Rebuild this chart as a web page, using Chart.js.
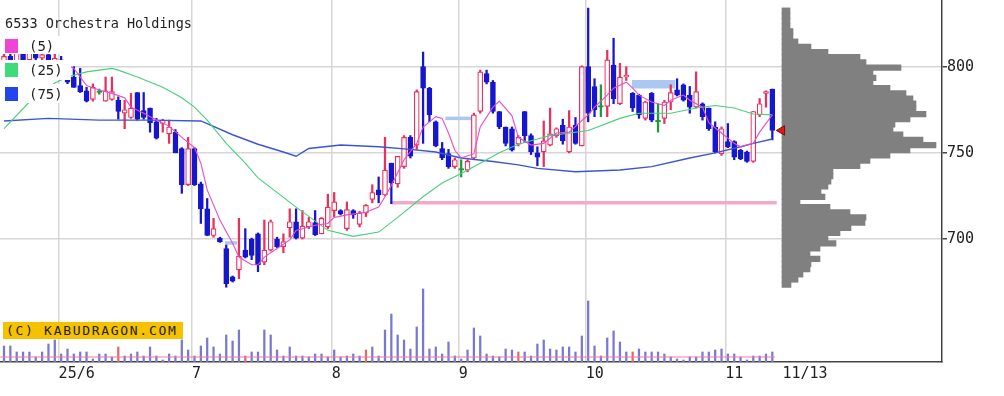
<!DOCTYPE html>
<html>
<head>
<meta charset="utf-8">
<script src="https://cdn.jsdelivr.net/npm/chart.js@4.4.1/dist/chart.umd.min.js"></script>
<style>
  body { margin: 0; background: #fff; }
  #wrap { position: relative; width: 1004px; height: 396px; overflow: hidden; }
  #c { position: absolute; left: 0; top: 0; }
  .txt { position: absolute; font-family: "DejaVu Sans Mono", monospace; color: #222; white-space: nowrap; line-height: 1; }
  .row { position: absolute; left: 0; width: 71px; background: #fff; }
  .sw { position: absolute; left: 5px; width: 13px; height: 14px; }
  #copy { position: absolute; left: 3px; top: 322px; width: 180px; height: 17px; background: #f6c200;
          font-family: "DejaVu Sans Mono", monospace; font-size: 13px; letter-spacing: 1.7px; line-height: 17px;
          color: #222; padding-left: 3px; box-sizing: border-box; white-space: nowrap; }
</style>
</head>
<body>
<div id="wrap">
  <canvas id="c" width="1004" height="396"></canvas>
  <div class="txt" style="left:5px; top:17px; font-size:13.5px;">6533 Orchestra Holdings</div>
  <div class="row" style="top:36px; height:18px;">
    <span class="sw" style="top:3px; background:#f044d4;"></span>
    <span class="txt" style="left:29px; top:3px; font-size:14px;">(5)</span>
  </div>
  <div class="row" style="top:60px; height:20px;">
    <span class="sw" style="top:3px; background:#3ddc78;"></span>
    <span class="txt" style="left:29px; top:3px; font-size:14px;">(25)</span>
  </div>
  <div class="row" style="top:84px; height:19px;">
    <span class="sw" style="top:3px; background:#2244ee;"></span>
    <span class="txt" style="left:29px; top:3px; font-size:14px;">(75)</span>
  </div>
  <div id="copy">(C) KABUDRAGON.COM</div>
</div>
<script>
// daily candles, 2025-05-20 .. 2025-11-13 (index 0..121)
const openP = [798,806,803,808,804,809,805,807,800,804,794,794,789,786,781,785,780,781,780.5,773,
  770.5,785,774.5,776,768,767,761,762,752.5,731.5,752.5,732,717.5,702,700.5,694.5,678,682,693.5,700,
  703,686.5,693.5,700,695.5,706.5,710,700.5,707,709.5,703,707,716.5,716.5,706,716.5,708.5,715,723,728.5,
  725.5,744,732,742,759,754.5,800,787.5,768,752.5,749.5,742,740,740,747,774,796,791,774,765,
  764,755,774,760,750,750.5,754.5,760,766,750.5,766,754,800,788.5,776.5,777,801,778.5,794,784.5,
  783.5,770,784.5,768,770,779.5,786.5,789.5,783.5,776.5,778.5,776,765,749.5,756.5,756.5,751.5,750.5,745,772,
  784.5,787];
const highP = [808,810,812,811,813,812,810,811,814,806,797,800,799,788,790,787,794,794,782.5,780.5,
  784.5,785,785,776,770,769.5,769,763.5,753,759,753,733,723.5,712,701,696.5,678.5,712,706,700.5,
  703.5,711,711,701,703,717.5,717.5,716.5,712.5,716.5,712.5,726,727,717,721.5,717,716,720,731.5,736,
  759,744,748,760,760,786.5,808.5,788,768.5,756,752,747,746,746,773,798,798,792,774,765,
  765,760,774,761,753.5,768.5,776,764.5,769.5,774.5,770.5,800.5,834,793,789.5,809.5,816.5,802,800,785,
  784,780,785,778.5,780.5,789.5,793,790,788.5,797,779,776,768,765,767,757,752,751,774,781.5,
  786,787];
const lowP = [796,800,801,802,803,803,802,798,798,794,789,788,785,779.5,780,784,780,780.5,769.5,764,
  770,769,769.5,762,758,762,755.5,750,726.5,731,731,709,702,701,698,672,675,677,689,688,
  681,685,693,695,692,701,700,700,706,702,703,706,713,714,705,712,707,713,721,721,
  725,720.5,730,741,747,752,755.5,768,753.5,746,741,741,736,739,746,773,790,773,764,754,
  751,754,756,749,742.5,742,754,759,755,750,755,754,768,771,771,771,778.5,778,792,774,
  770,769,768,762,767,775,783,780,773,776,769,763,750,748.5,753,746,746,744.5,744.5,771,
  776.5,757.5];
const closeP = [806,802,808,804,809,805,807,800,805,796,791,788,785.5,780,788,785,786,785.5,774,775,
  776,769.5,770.5,767.5,758.5,769,765,750,731.5,752.5,731.5,717.5,702,706,698.5,674,675.5,690,689.5,690.5,
  685,693.5,710,695.5,698.5,710,700.5,707.5,710,702.5,712,718.5,721.5,714.5,717,714,715,719.5,727,725.5,
  740,732.5,748,759,748,785.5,787.5,772,754,747,742,746,740,745,772,797,791,774,765,755.5,
  751.5,759,760,750.5,747.5,757,761,764,757,765,755.5,800,773,775,776.5,804,781.5,794,795,776,
  772,779.5,769,768,779.5,785,783.5,780.5,776.5,785.5,771,764,750.5,764,753.5,747.5,746.5,745,774,778.5,
  785.5,763];
// volume, thousand shares
const volume = [160,160,100,100,100,50,100,180,220,80,130,80,100,100,30,80,80,50,150,60,
  80,100,60,150,60,20,80,60,220,120,60,160,240,150,80,270,210,320,60,100,
  100,320,270,120,60,150,60,60,50,80,80,50,120,50,60,80,60,120,150,60,
  320,480,270,220,130,350,730,130,150,80,200,60,30,120,340,260,80,60,50,130,
  120,100,100,60,180,220,130,120,150,150,100,260,610,160,60,240,310,200,100,100,
  130,100,100,100,80,50,30,20,50,50,100,100,120,130,80,80,50,20,60,60,
  80,100];
const volRedDays = [18, 38, 57, 81, 99];
const volAverage = 50;

const ma5Idx = [8,10,11,13,15,17,19,20,22,24,26,28,30,31,32,34,36,37,39,40,41,43,45,46,48,49,51,52,54,56,57,59,60,61,63,65,66,68,69,70,
  71,72,74,75,77,78,80,81,83,85,87,89,92,93,95,96,98,99,100,102,104,105,107,108,110,111,113,115,116,118,119,121];
const ma5Val = [803,801,799,789,786.5,784.5,782,776.5,773,769,765.5,759,753,744,728.5,711,697.5,689.5,685,685,689.5,694.5,699.5,705,707,708,709,712.5,714,715,715.5,718.5,724.5,731,746,755.5,765,771,770,761.5,
  751.5,747,749.5,765,776.5,780,771.5,759,754.5,755.5,761.5,762,772,776.5,783.5,787.5,791,787.5,783.5,779.5,777.5,780.5,783.5,780.5,776.5,767.5,761.5,755.5,753.5,755.5,762,772];
const ma25Idx = [0,4,8,10,13,17,18,21,25,28,30,32,35,38,40,46,51,55,59,62,66,69,72,76,78,81,84,86,92,97,100,105,109,112,115,118,121];
const ma25Val = [764,779.5,790.5,794,797,799,798,794,788,782,776.5,769,755.5,744,735.5,718.5,705,701.5,704,712.5,724.5,732.5,738,746,750,755,758,760,763,770,773,773,776,777.5,776,772.5,772];
const ma75Idx = [0,7,15,23,31,36,40,44,46,48,53,59,64,68,72,77,81,84,90,97,102,108,112,116,118,121];
const ma75Val = [768.5,770,769,769,768.5,760.5,755,750.5,748,752.5,754.5,753.5,752,750.5,747,745,743,741,739,740,742,747,750,753.5,755.5,758];

// price windows (gaps) and support line
const gapFrom = [34.8, 69.5, 98.9];
const gapTo = [36.7, 73.7, 105.7];
const gapPrice = [697.7, 770, 789.8];
const supportFrom = 61, supportTo = 121.7, supportPrice = 721;

// volume-by-price profile
const profilePrice = [673.5,676.5,679.5,682.5,685.5,688.5,691.5,694.5,697.5,700.5,703.5,706.5,709.5,712.5,715.5,718.5,721.5,724.5,
  727.5,730.5,733.5,736.5,739.5,742.5,745.5,748.5,751.5,754.5,757.5,760.5,763.5,766.5,769.5,772.5,775.5,778.5,
  781.5,784.5,787.5,790.5,793.5,796.5,799.5,802.5,805.5,808.5,811.5,814.5,817.5,820.5,823.5,826.5,829.5,832.5];
const profileVol = [9,16,21,28,29,38,28,38,54,46,58,69,83,84,68,48,18,43,
  39,46,49,51,51,78,88,108,128,154,141,121,111,113,128,144,134,134,
  131,124,108,91,94,91,119,84,78,46,29,16,11,11,8,8,8,8];

const monthStart = [9, 30, 52, 72, 92, 114];
const monthLabels = ['25/6', '7', '8', '9', '10', '11'];
const lastLabel = '11/13';
const priceTicks = [700, 750, 800];
const lastClose = 763;

const RED = '#e8305c', BLUE = '#1616cc', GREEN = '#1e9a3c';
const Y_MIN = 628.6, Y_MAX = 838.7;

const idx = openP.map((_, i) => i);
const lastIdx = idx.length - 1;
const tone = idx.map(i => closeP[i] > openP[i] ? RED : (closeP[i] < openP[i] ? BLUE : GREEN));
const xTickPos = monthStart.map(m => m - 0.4).concat([lastIdx + 1.6]);
const xTickText = monthLabels.concat([lastLabel]);
const pts = (xs, ys) => xs.map((x, k) => ({x: x, y: ys[k]}));

const ctx = document.getElementById('c').getContext('2d');
const chart = new Chart(ctx, {
  data: {
    datasets: [
      { type: 'bar', label: 'volume', xAxisID: 'x', yAxisID: 'yv', order: 20, grouped: false,
        data: idx.map(i => ({x: i, y: volume[i]})),
        backgroundColor: idx.map(i => volRedDays.includes(i) ? '#e06868' : '#7878d2'),
        barThickness: 1.6 },
      { type: 'line', label: 'vol avg', xAxisID: 'x', yAxisID: 'yv', order: 19,
        data: [{x: -0.6, y: volAverage}, {x: lastIdx + 0.4, y: volAverage}],
        borderColor: '#f07aa2', borderWidth: 1, pointRadius: 0 },
      { type: 'bar', label: 'profile', indexAxis: 'y', xAxisID: 'xp', yAxisID: 'yp', order: 18, grouped: false,
        data: pts(profileVol, profilePrice),
        backgroundColor: '#808080', barThickness: 5.6 },
      { type: 'line', label: 'support', order: 17,
        data: [{x: supportFrom, y: supportPrice}, {x: supportTo, y: supportPrice}],
        borderColor: '#f5a9c9', borderWidth: 3.5, pointRadius: 0, borderCapStyle: 'butt' },
      ...gapFrom.map((g, k) => ({ type: 'line', label: 'gap' + k, order: 16,
        data: [{x: g, y: gapPrice[k]}, {x: gapTo[k], y: gapPrice[k]}],
        borderColor: '#aac8f2', borderWidth: k === 2 ? 8.5 : 3.5, pointRadius: 0, borderCapStyle: 'butt' })),
      { type: 'bar', label: 'wick', order: 10, grouped: false,
        data: idx.map(i => ({x: i, y: [lowP[i], highP[i]]})),
        backgroundColor: tone, barThickness: 1.6 },
      { type: 'bar', label: 'body', order: 9, grouped: false,
        data: idx.map(i => ({x: i, y: [openP[i], closeP[i]]})),
        backgroundColor: idx.map(i => tone[i] === RED ? '#ffffff' : tone[i]),
        borderColor: tone, borderWidth: 1.2, borderSkipped: false, minBarLength: 1.6,
        barThickness: 5 },
      { type: 'line', label: '(75)', order: 3, data: pts(ma75Idx, ma75Val),
        borderColor: '#3a56d6', borderWidth: 1.4, pointRadius: 0 },
      { type: 'line', label: '(25)', order: 2, data: pts(ma25Idx, ma25Val),
        borderColor: '#48d07a', borderWidth: 1.1, pointRadius: 0 },
      { type: 'line', label: '(5)', order: 1, data: pts(ma5Idx, ma5Val),
        borderColor: '#e84ccc', borderWidth: 1.1, pointRadius: 0 },
      { type: 'line', label: 'last', order: 0, showLine: false,
        data: [{x: lastIdx + 1.5, y: lastClose}],
        pointStyle: 'triangle', rotation: -90, pointRadius: 5.5,
        pointBackgroundColor: '#e01818', pointBorderColor: '#701010', pointBorderWidth: 1 }
    ]
  },
  options: {
    responsive: false,
    animation: false,
    events: [],
    layout: { padding: 0, autoPadding: false },
    plugins: { legend: { display: false }, tooltip: { enabled: false } },
    scales: {
      x: {
        type: 'linear', position: 'bottom', min: -0.63, max: 147.72, offset: false,
        afterBuildTicks: s => { s.ticks = xTickPos.map(v => ({value: v})); },
        afterFit: s => { s.height = 34; s.paddingLeft = 0; s.paddingRight = 0; },
        ticks: {
          autoSkip: false, maxRotation: 0, align: 'start', padding: 3, color: '#222',
          font: { family: 'DejaVu Sans Mono', size: 15 },
          callback: (v, i) => xTickText[i]
        },
        grid: {
          offset: false, drawTicks: false, lineWidth: 1.5,
          color: c => c.index === xTickPos.length - 1 ? 'rgba(0,0,0,0)' : '#d6d6d6'
        },
        border: { color: '#444', width: 1.5 }
      },
      y: {
        type: 'linear', position: 'right', min: Y_MIN, max: Y_MAX,
        afterBuildTicks: s => { s.ticks = priceTicks.map(v => ({value: v})); },
        afterFit: s => { s.width = 62; s.paddingTop = 0; s.paddingBottom = 0; },
        ticks: { padding: 0, color: '#222', font: { family: 'DejaVu Sans Mono', size: 15 } },
        grid: { color: '#d6d6d6', lineWidth: 1.5, tickLength: 5, tickColor: '#444', tickWidth: 1.5 },
        border: { color: '#444', width: 1.5 }
      },
      yv: { type: 'linear', display: false, min: 0, max: 3620 },
      xp: { type: 'linear', display: false, min: -782, max: 160, offset: false },
      yp: { type: 'linear', display: false, min: Y_MIN, max: Y_MAX, offset: false }
    }
  }
});
</script>
</body>
</html>
